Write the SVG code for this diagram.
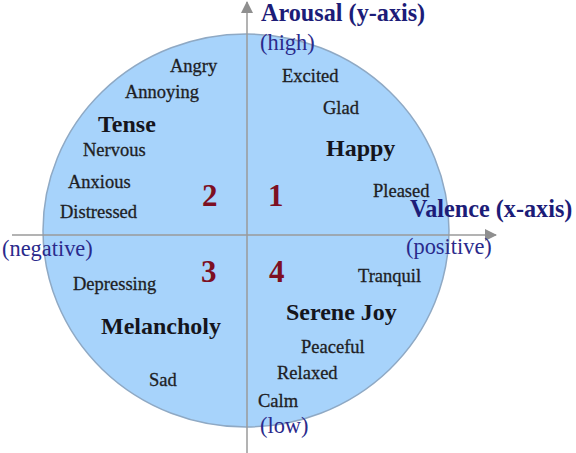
<svg xmlns="http://www.w3.org/2000/svg" width="576" height="453" viewBox="0 0 576 453">
<style>
text{font-family:"Liberation Serif","Times New Roman",serif}
.w{font-size:18.5px;fill:#1e1e24;stroke:#1e1e24;stroke-width:0.3}
.b{font-size:24px;font-weight:bold;fill:#15151c}
.n{font-size:31px;font-weight:bold;fill:#7d0f22}
.ax{font-size:24.2px;font-weight:bold;fill:#1c1c78}
.lb{font-size:22.4px;fill:#2a2a8c}
.axis{stroke:#9a9a9a;stroke-width:1.5;fill:none}
</style>
<defs>
<marker id="arr" viewBox="0 0 12 12" refX="11" refY="6" markerWidth="12" markerHeight="12" markerUnits="userSpaceOnUse" orient="auto">
<path d="M0,0 L12,6 L0,12 Z" fill="#8f8f8f"/>
</marker>
</defs>
<g id="circle">
<ellipse cx="246" cy="230.5" rx="203" ry="196.5" fill="#a7d3fb" stroke="#8fa9c4" stroke-width="1.5"/>
</g>
<g id="connectors">
<line class="axis" x1="247" y1="453" x2="247" y2="2" marker-end="url(#arr)"/>
<line class="axis" x1="12" y1="235" x2="496" y2="235" marker-end="url(#arr)"/>
</g>
<g id="axis-labels">
<text class="ax" x="261" y="21">Arousal (y-axis)</text>
<text class="lb" x="260" y="50">(high)</text>
<text class="ax" x="410" y="217">Valence (x-axis)</text>
<text class="lb" x="2" y="256">(negative)</text>
<text class="lb" x="406" y="254">(positive)</text>
<text class="lb" x="260" y="433">(low)</text>
</g>
<g id="quadrant-numbers">
<text class="n" x="202" y="206">2</text>
<text class="n" x="268" y="206">1</text>
<text class="n" x="201" y="282">3</text>
<text class="n" x="269" y="282">4</text>
</g>
<g id="q2">
<text class="w" x="170" y="72">Angry</text>
<text class="w" x="125" y="98">Annoying</text>
<text class="b" x="98" y="132">Tense</text>
<text class="w" x="83" y="156">Nervous</text>
<text class="w" x="68" y="188">Anxious</text>
<text class="w" x="60" y="218">Distressed</text>
</g>
<g id="q1">
<text class="w" x="282" y="82">Excited</text>
<text class="w" x="323" y="114">Glad</text>
<text class="b" x="326" y="156">Happy</text>
<text class="w" x="373" y="197">Pleased</text>
</g>
<g id="q3">
<text class="w" x="73" y="290">Depressing</text>
<text class="b" x="101" y="334">Melancholy</text>
<text class="w" x="149" y="386">Sad</text>
</g>
<g id="q4">
<text class="w" x="358" y="282">Tranquil</text>
<text class="b" x="286" y="320">Serene Joy</text>
<text class="w" x="301" y="353">Peaceful</text>
<text class="w" x="277" y="379">Relaxed</text>
<text class="w" x="258" y="407">Calm</text>
</g>
</svg>
